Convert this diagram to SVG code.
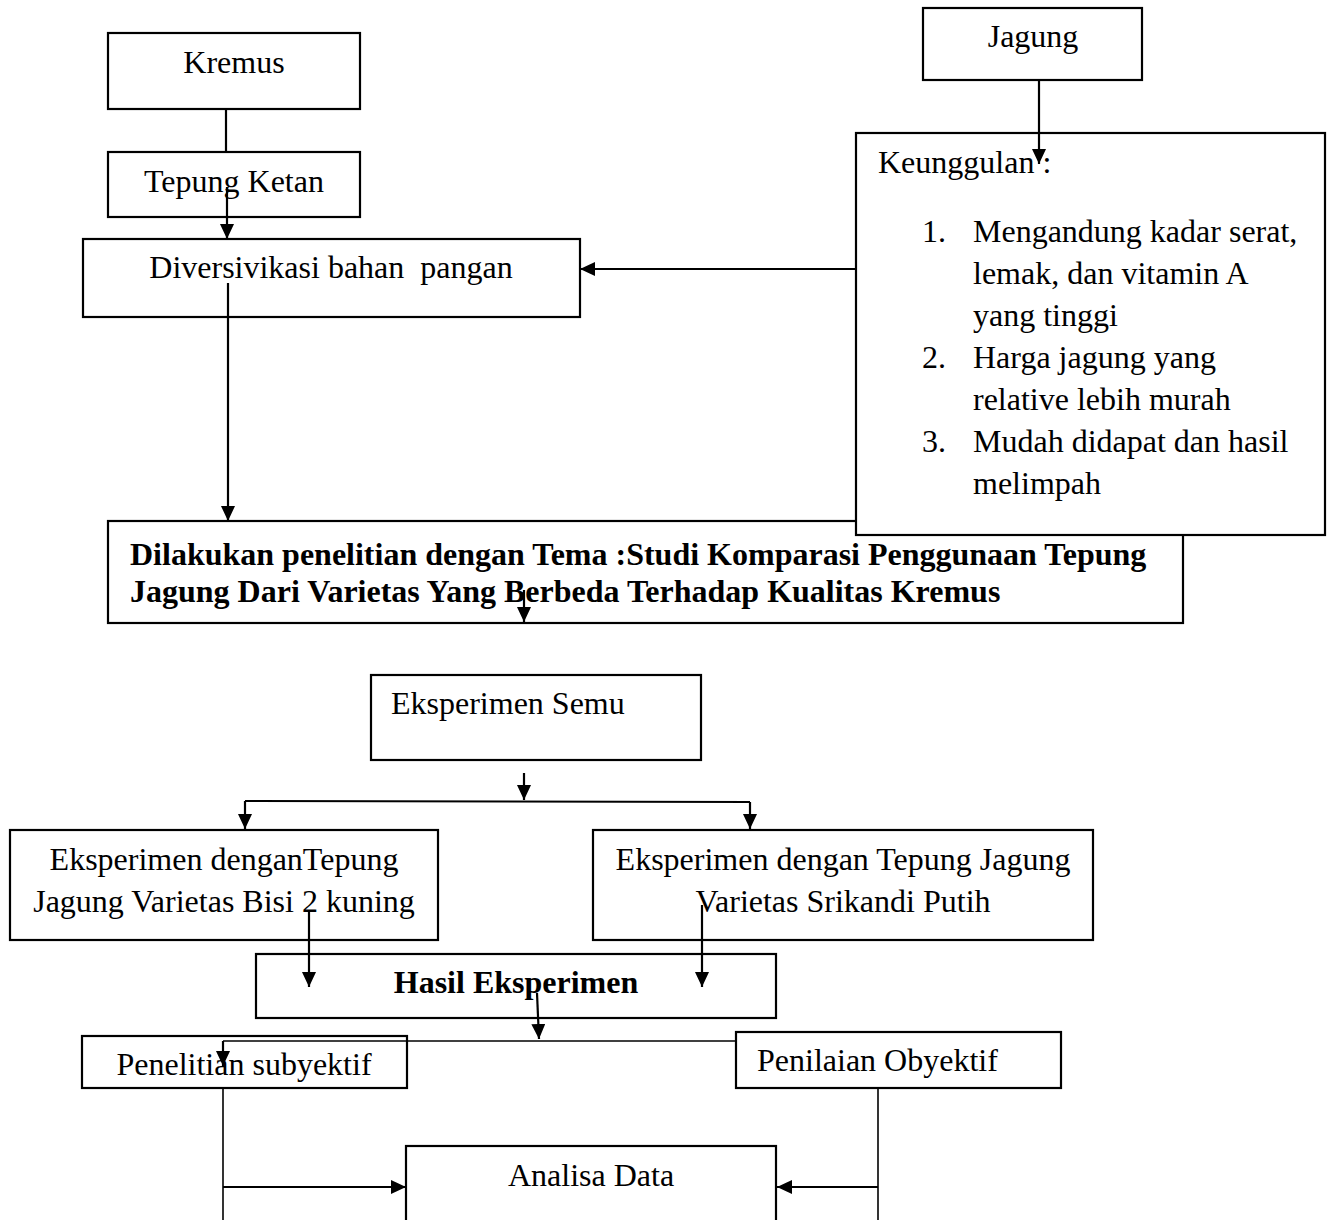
<svg xmlns="http://www.w3.org/2000/svg" width="1333" height="1220" viewBox="0 0 1333 1220">
<style>
  text { font-family: "Liberation Serif", "Times New Roman", serif; font-size: 32px; fill: #000; }
  .c { text-anchor: middle; }
  .b { font-weight: bold; }
  .box { fill: #fff; stroke: #000; stroke-width: 2.2; }
  .ln { fill: none; stroke: #000; stroke-width: 2.2; }
  .thin { fill: none; stroke: #000; stroke-width: 1.6; }
  .arr { marker-end: url(#ah); }
</style>
<defs>
  <marker id="ah" markerUnits="userSpaceOnUse" markerWidth="16" markerHeight="15" refX="15" refY="7" orient="auto">
    <path d="M0,0 L15,7 L0,14 z" fill="#000"/>
  </marker>
</defs>
<rect width="1333" height="1220" fill="#fff"/>

<g id="kremus">
  <rect class="box" x="108" y="33" width="252" height="76"/>
  <text class="c" x="234" y="73">Kremus</text>
</g>
<g id="tepung-ketan">
  <rect class="box" x="108" y="152" width="252" height="65"/>
  <text class="c" x="234" y="192">Tepung Ketan</text>
</g>
<g id="diversivikasi">
  <rect class="box" x="83" y="239" width="497" height="78"/>
  <text class="c" x="331" y="278" xml:space="preserve">Diversivikasi bahan  pangan</text>
</g>
<g id="jagung">
  <rect class="box" x="923" y="8" width="219" height="72"/>
  <text class="c" x="1033" y="47">Jagung</text>
</g>
<g id="penelitian-tema">
  <rect class="box" x="108" y="521" width="1075" height="102"/>
  <text class="b" x="130" y="565">Dilakukan penelitian dengan Tema :Studi Komparasi Penggunaan Tepung</text>
  <text class="b" x="130" y="602">Jagung Dari Varietas Yang Berbeda Terhadap Kualitas Kremus</text>
</g>
<g id="keunggulan">
  <rect class="box" x="856" y="133" width="469" height="402"/>
  <text x="878" y="173">Keunggulan :</text>
  <text x="922" y="242">1.</text>
  <text x="973" y="242">Mengandung kadar serat,</text>
  <text x="973" y="284">lemak, dan vitamin A</text>
  <text x="973" y="326">yang tinggi</text>
  <text x="922" y="368">2.</text>
  <text x="973" y="368">Harga jagung yang</text>
  <text x="973" y="410">relative lebih murah</text>
  <text x="922" y="452">3.</text>
  <text x="973" y="452">Mudah didapat dan hasil</text>
  <text x="973" y="494">melimpah</text>
</g>
<g id="eksperimen-semu">
  <rect class="box" x="371" y="675" width="330" height="85"/>
  <text x="391" y="714">Eksperimen Semu</text>
</g>
<g id="eksperimen-bisi">
  <rect class="box" x="10" y="830" width="428" height="110"/>
  <text class="c" x="224" y="870">Eksperimen denganTepung</text>
  <text class="c" x="224" y="912">Jagung Varietas Bisi 2 kuning</text>
</g>
<g id="eksperimen-srikandi">
  <rect class="box" x="593" y="830" width="500" height="110"/>
  <text class="c" x="843" y="870">Eksperimen dengan Tepung Jagung</text>
  <text class="c" x="843" y="912">Varietas Srikandi Putih</text>
</g>
<g id="hasil-eksperimen">
  <rect class="box" x="256" y="954" width="520" height="64"/>
  <text class="c b" x="516" y="993">Hasil Eksperimen</text>
</g>
<g id="penelitian-subyektif">
  <rect class="box" x="82" y="1036" width="325" height="52"/>
  <text class="c" x="244" y="1075">Penelitian subyektif</text>
</g>
<g id="penilaian-obyektif">
  <rect class="box" x="736" y="1032" width="325" height="56"/>
  <text x="757" y="1071">Penilaian Obyektif</text>
</g>
<g id="analisa-data">
  <rect class="box" x="406" y="1146" width="370" height="90"/>
  <text class="c" x="591" y="1186">Analisa Data</text>
</g>

<g id="connectors">
  <line class="ln" x1="226" y1="109" x2="226" y2="152"/>
  <line class="ln arr" x1="227" y1="187" x2="227" y2="239"/>
  <line class="ln arr" x1="228" y1="283" x2="228" y2="521"/>
  <line class="ln arr" x1="856" y1="269" x2="580" y2="269"/>
  <line class="ln arr" x1="1039" y1="80" x2="1039" y2="164"/>
  <line class="ln arr" x1="524" y1="590" x2="524" y2="622"/>
  <line class="ln arr" x1="524" y1="773" x2="524" y2="800"/>
  <line class="ln" x1="245" y1="801" x2="750" y2="802"/>
  <line class="ln arr" x1="245" y1="801" x2="245" y2="829"/>
  <line class="ln arr" x1="750" y1="802" x2="750" y2="829"/>
  <line class="ln arr" x1="309" y1="910" x2="309" y2="987"/>
  <line class="ln arr" x1="702" y1="905" x2="702" y2="987"/>
  <line class="ln arr" x1="537" y1="993" x2="539" y2="1039"/>
  <line class="thin" x1="223" y1="1041" x2="736" y2="1041"/>
  <line class="ln arr" x1="223" y1="1041" x2="223" y2="1066"/>
  <line class="thin" x1="223" y1="1088" x2="223" y2="1220"/>
  <line class="ln arr" x1="223" y1="1187" x2="406" y2="1187"/>
  <line class="thin" x1="878" y1="1088" x2="878" y2="1220"/>
  <line class="ln arr" x1="878" y1="1187" x2="777" y2="1187"/>
</g>
</svg>
